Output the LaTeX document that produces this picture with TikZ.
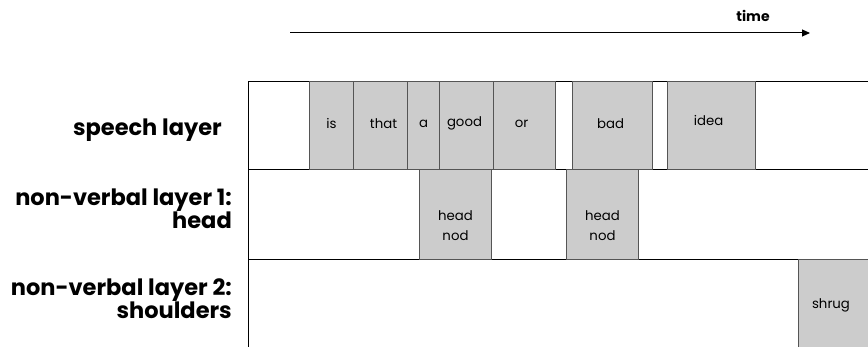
\documentclass[tikz,border=0pt]{standalone}
\usepackage{fontspec}
\setmainfont{Poppins}
\usetikzlibrary{arrows.meta}
\definecolor{boxgray}{HTML}{CCCCCC}
\definecolor{edgegray}{HTML}{555555}
\tikzset{
  rowbox/.style={draw=black, line width=1pt, fill=white, rectangle, anchor=north west, inner sep=0pt},
  wordbox/.style={draw=edgegray, line width=1pt, fill=boxgray, rectangle, anchor=north west, inner sep=0pt},
  wordtext/.style={font=\fontsize{13.3}{15}\selectfont, inner sep=0pt, align=center},
  layerlabel/.style={anchor=east, align=right, font=\fontsize{22.5}{23}\selectfont\bfseries, inner sep=0pt},
}
\begin{document}
\begin{tikzpicture}[x=1pt, y=-1pt]
\clip (0,0) rectangle (868,347);
\useasboundingbox (0,0) rectangle (868,347);
% time arrow
\coordinate (t0) at (290,33);
\coordinate (t1) at (810,33);
\draw[line width=1pt, -{Triangle[length=8pt, width=7pt]}] (t0) -- (t1);
\node[font=\fontsize{14}{16}\selectfont\bfseries, inner sep=0pt] (time) at (753,16) {time};
% rows
\node[rowbox, minimum width=640pt, minimum height=88pt] (speech) at (248,81) {};
\node[rowbox, minimum width=640pt, minimum height=90pt] (head) at (248,169) {};
\node[rowbox, minimum width=640pt, minimum height=100pt] (shoulders) at (248,259) {};
% words
\node[wordbox, minimum width=44pt, minimum height=88pt] (is) at (309,81) {};
\node[wordtext] (tis) at ([yshift=2pt]is.center) {is};
\node[wordbox, minimum width=54pt, minimum height=88pt] (that) at (353,81) {};
\node[wordtext] (tthat) at ([xshift=3pt,yshift=2pt]that.center) {that};
\node[wordbox, minimum width=32pt, minimum height=88pt] (a) at (407,81) {};
\node[wordtext] (ta) at ([yshift=2pt]a.center) {a};
\node[wordbox, minimum width=54pt, minimum height=88pt] (good) at (439,81) {};
\node[wordtext] (tgood) at ([xshift=-2pt,yshift=2pt]good.center) {good};
\node[wordbox, minimum width=62pt, minimum height=88pt] (or) at (493,81) {};
\node[wordtext] (tor) at ([xshift=-3pt,yshift=2pt]or.center) {or};
\node[wordbox, minimum width=80pt, minimum height=88pt] (bad) at (572,81) {};
\node[wordtext] (tbad) at ([xshift=-2pt,yshift=2pt]bad.center) {bad};
\node[wordbox, minimum width=88pt, minimum height=88pt] (idea) at (667,81) {};
\node[wordtext] (tidea) at ([xshift=-3pt,yshift=5pt]idea.center) {idea};
% head nods
\node[wordbox, minimum width=72pt, minimum height=90pt] (nod1) at (419,169) {};
\node[wordtext, font=\fontsize{13.3}{20}\selectfont] (tnod1) at ([yshift=-11pt]nod1.center) {head\\nod};
\node[wordbox, minimum width=72pt, minimum height=90pt] (nod2) at (566,169) {};
\node[wordtext, font=\fontsize{13.3}{20}\selectfont] (tnod2) at ([yshift=-11pt]nod2.center) {head\\nod};
% shrug
\node[wordbox, minimum width=80pt, minimum height=100pt] (shrug) at (798,259) {};
\node[wordtext] (tshrug) at (831,305) {shrug};
% labels
\node[layerlabel] (lspeech) at (222,130) {speech layer};
\node[layerlabel] (lhead) at (232,209) {non-verbal layer 1:\\head};
\node[layerlabel] (lshoulders) at (232,299) {non-verbal layer 2:\\shoulders};
\end{tikzpicture}
\end{document}
